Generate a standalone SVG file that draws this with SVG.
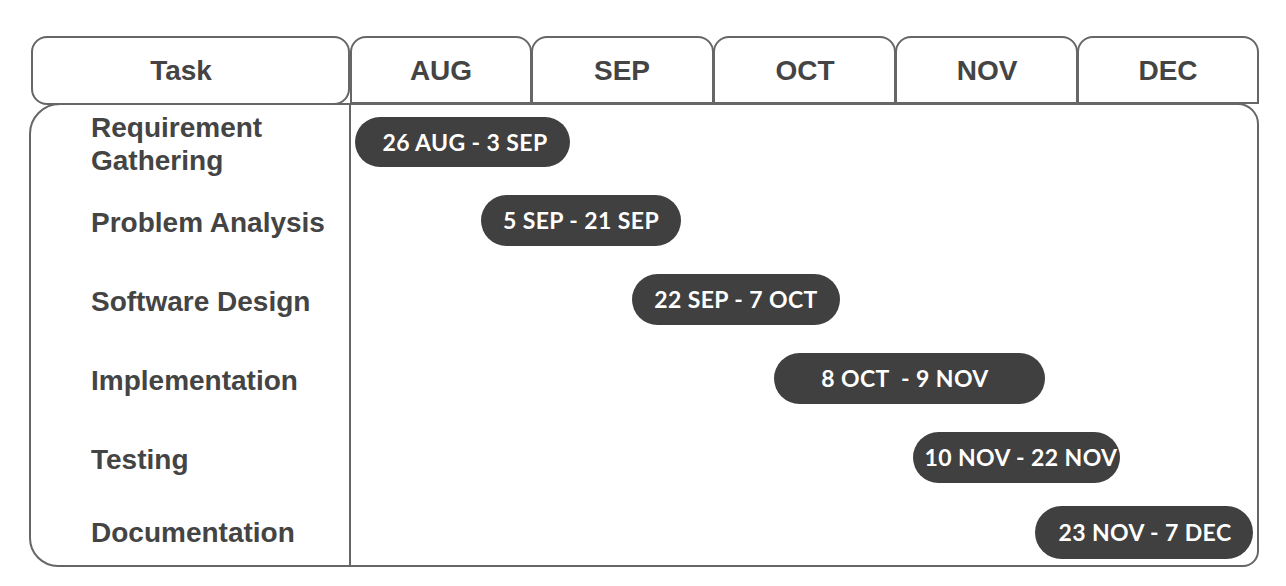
<svg xmlns="http://www.w3.org/2000/svg" width="1286" height="586" viewBox="0 0 1286 586">
<style>
.box{fill:#fff;stroke:#666;stroke-width:2}
.hdr{font-family:"Liberation Sans",Arial,sans-serif;font-weight:bold;font-size:28px;fill:#444;text-anchor:middle}
.lbl{font-family:"Liberation Sans",Arial,sans-serif;font-weight:bold;font-size:28px;fill:#444}
.bar{fill:#404040}
.bt{font-family:Lato,"Open Sans",sans-serif;font-weight:bold;font-size:23px;letter-spacing:0.4px;fill:#fff;text-anchor:middle}
</style>
<rect width="1286" height="586" fill="#fff"/>
<g id="body">
<path class="box" d="M60,104 H1238 A20,20 0 0 1 1258,124 V551 A15,15 0 0 1 1243,566 H58 A28,28 0 0 1 30,538 V134 A30,30 0 0 1 60,104 Z"/>
<line x1="350" y1="103" x2="350" y2="566" stroke="#666" stroke-width="2"/>
</g>
<g id="header-task">
<rect class="box" x="32" y="37" width="317" height="67" rx="15"/>
<text class="hdr" x="181" y="80">Task</text>
</g>
<g id="header-aug">
<path class="box" d="M351,103 V52 A15,15 0 0 1 366,37 H516 A15,15 0 0 1 531,52 V103 Z"/>
<text class="hdr" x="441" y="80">AUG</text>
</g>
<g id="header-sep">
<path class="box" d="M532,103 V52 A15,15 0 0 1 547,37 H698 A15,15 0 0 1 713,52 V103 Z"/>
<text class="hdr" x="622" y="80">SEP</text>
</g>
<g id="header-oct">
<path class="box" d="M714,103 V52 A15,15 0 0 1 729,37 H880 A15,15 0 0 1 895,52 V103 Z"/>
<text class="hdr" x="805" y="80">OCT</text>
</g>
<g id="header-nov">
<path class="box" d="M896,103 V52 A15,15 0 0 1 911,37 H1062 A15,15 0 0 1 1077,52 V103 Z"/>
<text class="hdr" x="987" y="80">NOV</text>
</g>
<g id="header-dec">
<path class="box" d="M1078,103 V52 A15,15 0 0 1 1093,37 H1243 A15,15 0 0 1 1258,52 V103 Z"/>
<text class="hdr" x="1168" y="80">DEC</text>
</g>
<line x1="351" y1="103" x2="1258" y2="103" stroke="#666" stroke-width="2"/>
<g id="task-1">
<text class="lbl" x="91" y="137">Requirement</text>
<text class="lbl" x="91" y="170">Gathering</text>
<rect class="bar" x="355" y="117" width="215" height="50" rx="25"/>
<text class="bt" x="465" y="151">26 AUG - 3 SEP</text>
</g>
<g id="task-2">
<text class="lbl" x="91" y="232">Problem Analysis</text>
<rect class="bar" x="481" y="195" width="200" height="51" rx="25.5"/>
<text class="bt" x="581" y="229">5 SEP - 21 SEP</text>
</g>
<g id="task-3">
<text class="lbl" x="91" y="311">Software Design</text>
<rect class="bar" x="632" y="274" width="208" height="51" rx="25.5"/>
<text class="bt" x="736" y="308">22 SEP - 7 OCT</text>
</g>
<g id="task-4">
<text class="lbl" x="91" y="390">Implementation</text>
<rect class="bar" x="774" y="353" width="271" height="51" rx="25.5"/>
<text class="bt" x="905" y="387" xml:space="preserve">8 OCT  - 9 NOV</text>
</g>
<g id="task-5">
<text class="lbl" x="91" y="469">Testing</text>
<rect class="bar" x="913" y="432" width="207" height="51" rx="25.5"/>
<text class="bt" x="1021" y="466">10 NOV - 22 NOV</text>
</g>
<g id="task-6">
<text class="lbl" x="91" y="542">Documentation</text>
<rect class="bar" x="1035" y="506" width="218" height="53" rx="26.5"/>
<text class="bt" x="1145" y="541">23 NOV - 7 DEC</text>
</g>
</svg>
